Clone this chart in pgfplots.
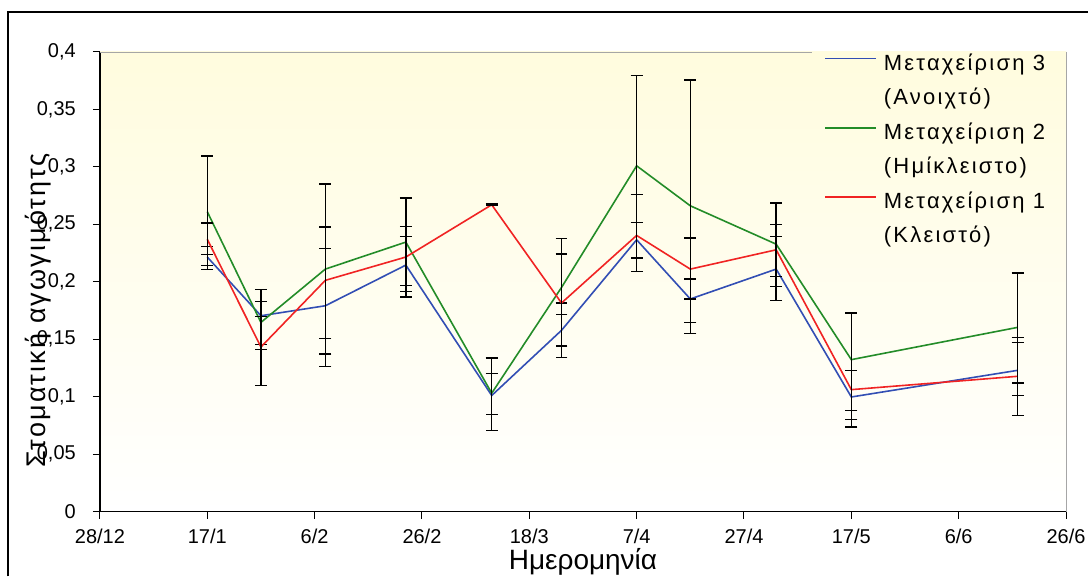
\documentclass[border=0pt]{standalone}
\usepackage{fontspec}
\setmainfont{Liberation Sans}
\newfontfamily\lgfont[LetterSpace=10]{Liberation Sans}
\newfontfamily\ylfont[LetterSpace=8]{Liberation Sans}
\usepackage{pgfplots}
\pgfplotsset{compat=1.18}
\definecolor{sthree}{RGB}{50,78,180}
\definecolor{stwo}{RGB}{35,140,40}
\definecolor{sone}{RGB}{240,35,35}
\definecolor{bgtop}{RGB}{255,252,222}

\begin{document}
\begin{tikzpicture}
\begin{axis}[
    scale only axis, width=967pt, height=460pt,
    xmin=0, xmax=180, ymin=0, ymax=0.4,
    axis lines=left, axis line style={-, black, line width=1.5pt},
    axis background/.style={top color=bgtop, bottom color=white},
    tick align=outside, major tick length=7pt,
    tick style={black, line width=1pt},
    xtick={0,20,...,180},
    xticklabels={28/12,17/1,6/2,26/2,18/3,7/4,27/4,17/5,6/6,26/6},
    ytick={0,0.05,0.1,0.15,0.2,0.25,0.3,0.35,0.4},
    yticklabels={0,{0,05},{0,1},{0,15},{0,2},{0,25},{0,3},{0,35},{0,4}},
    ticklabel style={font=\fontsize{20}{22}\selectfont},
    yticklabel style={inner sep=0pt, xshift=-17pt},
    xticklabel style={inner sep=0pt, yshift=-10pt},
    xlabel={Ημερομηνία},
    xlabel style={at={(axis description cs:0.5,0)}, anchor=base, yshift=-58pt, font=\fontsize{28}{30}\selectfont},
    ylabel={\ylfont Στοματική αγωγιμότητς},
    ylabel style={at={(axis description cs:-0.0641,0.437)}, anchor=center, font=\fontsize{27}{29}\selectfont},
    legend style={at={(axis description cs:0.7497,1)}, anchor=north west, draw=none, fill=none,
        inner sep=0pt, row sep=9.6pt, column sep=5pt,
        font=\lgfont\fontsize{22}{24}\selectfont,
        nodes={inner sep=2pt, text height=16pt, text depth=5pt}},
    legend cell align=left,
    legend image code/.code={\draw[#1] (0pt,6pt) -- (51pt,6pt);},
    clip=false,
]
% legend first, plots below are forget plot
\addlegendimage{sthree, line width=1.6pt}
\addlegendentry{Μεταχείριση 3}
\addlegendimage{empty legend}
\addlegendentry{(Ανοιχτό)}
\addlegendimage{stwo, line width=1.6pt}
\addlegendentry{Μεταχείριση 2}
\addlegendimage{empty legend}
\addlegendentry{(Ημίκλειστο)}
\addlegendimage{sone, line width=1.6pt}
\addlegendentry{Μεταχείριση 1}
\addlegendimage{empty legend}
\addlegendentry{(Κλειστό)}

% plot area border, top and right
\draw[gray!70, line width=0.8pt] (axis description cs:0,1) -- (axis description cs:0.737,1);
\draw[gray!70, line width=0.8pt] (axis description cs:1,1) -- (axis description cs:1,0);

\pgfplotsset{
    errstyle/.style={error bars/.cd, y dir=both, y explicit,
        error bar style={black, line width=1.4pt},
        error mark options={rotate=90, black, mark size=6pt, line width=1.4pt}},
}

% Μεταχείριση 3
\addplot[forget plot, sthree, line width=1.6pt, no markers, errstyle] coordinates {
    (20,0.2215)  += (0,0.0092) -= (0,0.0111)
    (30,0.1704)  += (0,0.0125) -= (0,0.0252)
    (42,0.1791)  += (0,0.0500) -= (0,0.0527)
    (57,0.2145)  += (0,0.0249) -= (0,0.0278)
    (73,0.1010)  += (0,0.0190) -= (0,0.0167)
    (86,0.1577)  += (0,0.0238) -= (0,0.0238)
    (100,0.2365) += (0,0.0151) -= (0,0.0159)
    (110,0.1850) += (0,0.0173) -= (0,0.0204)
    (126,0.2110) += (0,0.0284) -= (0,0.0273)
    (140,0.0997) += (0,0.0229) -= (0,0.0261)
    (171,0.1229) += (0,0.0243) -= (0,0.0220)
};
% Μεταχείριση 2
\addplot[forget plot, stwo, line width=1.6pt, no markers, errstyle] coordinates {
    (20,0.2610)  += (0,0.0486) -= (0,0.0470)
    (30,0.1646)  += (0,0.0284) -= (0,0.0237)
    (42,0.2110)  += (0,0.0742) -= (0,0.0739)
    (57,0.2345)  += (0,0.0385) -= (0,0.0377)
    (73,0.1030)  += (0,0.0306) -= (0,0.0323)
    (86,0.1950)  += (0,0.0427) -= (0,0.0237)
    (100,0.3009) += (0,0.0785) -= (0,0.0803)
    (110,0.2661) += (0,0.1096) -= (0,0.1113)
    (126,0.2327) += (0,0.0357) -= (0,0.0368)
    (140,0.1322) += (0,0.0405) -= (0,0.0441)
    (171,0.1603) += (0,0.0472) -= (0,0.0484)
};
% Μεταχείριση 1
\addplot[forget plot, sone, line width=1.6pt, no markers, errstyle] coordinates {
    (20,0.2370)  += (0,0.0140) -= (0,0.0135)
    (30,0.1432)  += (0,0.0267) -= (0,0.0336)
    (42,0.2012)  += (0,0.0463) -= (0,0.0508)
    (57,0.2215)  += (0,0.0265) -= (0,0.0299)
    (73,0.2670)  += (0,0.0005) -= (0,0.0005)
    (86,0.1815)  += (0,0.0425) -= (0,0.0374)
    (100,0.2403) += (0,0.0354) -= (0,0.0313)
    (110,0.2110) += (0,0.0270) -= (0,0.0260)
    (126,0.2278) += (0,0.0218) -= (0,0.0232)
    (140,0.1061) += (0,0.0165) -= (0,0.0261)
    (171,0.1177) += (0,0.0339) -= (0,0.0342)
};
\end{axis}
% outer frame, cut at right and bottom as in the scan
\draw[black, line width=2pt] (-92pt,-65pt) -- (-92pt,500pt) -- (989pt,500pt);
\path (-100pt,-65pt) rectangle (989pt,512pt);
\end{tikzpicture}
\end{document}
